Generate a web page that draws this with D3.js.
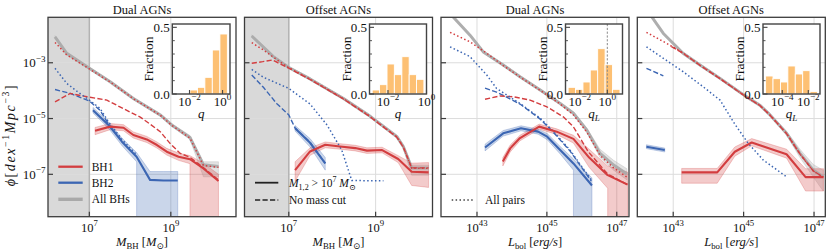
<!DOCTYPE html>
<html><head><meta charset="utf-8">
<script src="https://cdn.jsdelivr.net/npm/d3@7"></script>
<style>body{margin:0;background:#fff}svg text{font-family:"Liberation Serif","Times New Roman","DejaVu Serif",serif;fill:#111}</style>
</head><body><svg id="c" width="831" height="251"></svg>
<script>
// ---------------- DATA (log10 units) ----------------
// Panel 1: Dual AGNs vs M_BH  [logM, logPhi] or [logM, logPhi, lo, hi]
const p1_allBH = [[6.157,-2.07,-2.11,-2.03],[6.445,-2.66,-2.70,-2.62],[7.00,-3.20,-3.24,-3.16],[7.51,-3.68,-3.72,-3.64],[8.08,-4.28,-4.32,-4.24],[8.74,-4.87,-4.92,-4.82],[9.02,-5.23,-5.28,-5.18],[9.47,-5.68,-5.75,-5.61],[9.80,-6.66,-7.09,-6.55],[10.17,-6.72,-7.09,-6.55]];
const p1_BH1_all = [[6.157,-2.27],[6.445,-2.72],[7.00,-3.22],[7.51,-3.69],[8.08,-4.29],[8.74,-4.88],[9.02,-5.24],[9.47,-5.70],[9.80,-6.68],[10.17,-6.75]];
const p1_BH2_all = [[6.157,-3.20],[6.445,-3.74],[6.72,-4.05],[7.00,-4.34],[7.26,-4.63],[7.47,-5.12],[7.80,-5.75],[8.16,-6.30]];
const p1_BH1_nocut = [[6.157,-4.40],[6.53,-4.10],[6.94,-4.22],[7.43,-4.34],[7.92,-4.71],[8.25,-4.95],[8.49,-5.20],[8.74,-5.47],[8.98,-5.89],[9.23,-6.25],[9.47,-6.39],[9.72,-6.67],[10.17,-7.20]];
const p1_BH2_nocut = [[6.157,-3.96],[6.53,-4.10],[7.00,-4.37],[7.26,-4.70],[7.47,-5.20],[7.80,-5.80]];
const p1_BH1 = [[7.14,-5.44,-5.58,-5.32],[7.51,-5.29,-5.40,-5.18],[7.84,-5.33,-5.44,-5.22],[8.08,-5.59,-5.70,-5.48],[8.41,-5.75,-5.86,-5.64],[8.66,-5.95,-6.06,-5.84],[8.90,-6.19,-6.31,-6.07],[9.19,-6.37,-6.50,-6.24],[9.47,-6.46,-6.62,-6.33],[9.80,-6.79,null,-6.60],[10.17,-7.24,null,-7.00]];
const p1_BH2 = [[7.09,-4.70,-4.80,-4.60],[7.47,-5.23,-5.35,-5.12],[7.80,-5.83,-5.97,-5.70],[8.16,-6.37,-6.55,-6.22],[8.49,-7.20,null,-6.90],[8.82,-7.22,null,-6.90],[9.17,-7.22,null,-6.90]];

// Panel 2: Offset AGNs vs M_BH
const p2_allBH = [[6.147,-2.04,-2.08,-2.00],[6.645,-2.78,-2.82,-2.74],[7.00,-3.17,-3.21,-3.13],[7.49,-3.58,-3.62,-3.54],[8.26,-4.28,-4.32,-4.24],[8.83,-4.87,-4.92,-4.82],[9.49,-5.65,-5.71,-5.59],[9.64,-6.01,-6.08,-5.94],[9.83,-6.77,-7.03,-6.67],[10.22,-6.77,-7.03,-6.67]];
const p2_BH1_all = [[6.147,-2.28],[6.415,-2.54],[6.645,-2.80],[7.00,-3.18],[7.49,-3.59],[8.26,-4.29],[8.83,-4.88],[9.49,-5.66],[9.64,-6.02],[9.83,-6.78],[10.22,-6.78]];
const p2_BH1_nocut = [[6.147,-3.02],[6.40,-2.96],[6.62,-2.90],[7.00,-3.19],[7.49,-3.60],[8.26,-4.30],[8.83,-4.89],[9.49,-5.67],[9.64,-6.03],[9.83,-6.77],[10.22,-6.77]];
const p2_BH2_all = [[6.147,-3.24],[6.415,-3.52],[7.00,-3.92],[7.49,-4.48],[7.88,-5.23],[8.22,-6.13],[8.45,-7.22],[8.80,-7.23],[9.18,-7.23]];
const p2_BH2_nocut = [[6.147,-3.44],[6.415,-3.88],[6.72,-4.46],[7.00,-4.87],[7.145,-5.34],[7.49,-5.85],[7.84,-6.61]];
const p2_BH1 = [[7.145,-6.85,-7.25,-6.55],[7.49,-6.18,-6.32,-6.05],[7.84,-5.94,-6.05,-5.84],[8.18,-6.00,-6.10,-5.90],[8.53,-6.06,-6.16,-5.96],[8.80,-6.15,-6.25,-6.05],[9.15,-6.13,-6.23,-6.03],[9.52,-6.45,-6.58,-6.33],[9.83,-6.91,-7.40,-6.60],[10.22,-6.93,-7.47,-6.58]];
const p2_BH2 = [[7.145,-5.35,-5.45,-5.25],[7.49,-5.87,-6.02,-5.72],[7.84,-6.61,-6.85,-6.40]];

// Panel 3: Dual AGNs vs L_bol
const p3_allBH = [[42.23,-1.24,-1.28,-1.20],[42.80,-2.01,-2.05,-1.97],[43.18,-2.61,-2.65,-2.57],[43.75,-3.08,-3.12,-3.04],[44.23,-3.50,-3.54,-3.46],[44.81,-3.98,-4.02,-3.94],[45.38,-4.46,-4.50,-4.42],[45.76,-4.81,-4.86,-4.76],[46.14,-5.41,-5.48,-5.34],[46.52,-6.25,-6.40,-6.10],[46.91,-6.67,-6.85,-6.50],[47.29,-6.99,-7.20,-6.80]];
const p3_BH1_all = [[42.23,-1.91],[42.80,-2.25],[43.28,-2.66],[43.75,-3.10],[44.23,-3.51],[44.81,-3.99],[45.38,-4.48],[45.76,-4.87],[46.14,-5.48],[46.52,-6.32],[46.91,-6.77],[47.29,-7.10]];
const p3_BH2_all = [[42.23,-2.43],[42.80,-2.78],[43.28,-3.44],[43.56,-3.92],[44.23,-4.46],[44.81,-4.99],[45.19,-5.47],[45.66,-6.13],[46.27,-7.20]];
const p3_BH1_nocut = [[43.23,-4.31],[43.66,-4.19],[44.04,-4.22],[44.52,-4.34],[45.00,-4.58],[45.47,-4.94],[45.76,-5.30],[46.19,-6.20],[46.74,-6.99],[47.31,-7.37]];
const p3_BH2_nocut = [[43.23,-3.91],[43.56,-4.05],[44.23,-4.48],[44.81,-5.02],[45.19,-5.50],[45.66,-6.16],[46.27,-7.24]];
const p3_BH1 = [[43.74,-6.54,-6.70,-6.40],[43.95,-6.07,-6.20,-5.95],[44.23,-5.70,-5.80,-5.60],[44.78,-5.29,-5.38,-5.20],[45.28,-5.47,-5.57,-5.37],[45.76,-5.73,-5.88,-5.60],[46.21,-6.40,-6.75,-6.10],[46.74,-7.03,-7.50,-6.70],[47.31,-7.37,null,-6.92]];
const p3_BH2 = [[43.23,-6.04,-6.16,-5.92],[43.75,-5.53,-5.63,-5.43],[44.26,-5.35,-5.44,-5.26],[44.75,-5.47,-5.56,-5.38],[45.01,-5.65,-5.76,-5.54],[45.38,-6.13,-6.27,-6.00],[45.76,-6.61,-6.85,-6.45],[46.29,-7.40,null,-7.13]];

// Panel 4: Offset AGNs vs L_bol
const p4_allBH = [[42.24,-1.08,-1.12,-1.04],[42.72,-1.95,-1.99,-1.91],[43.28,-2.66,-2.70,-2.62],[43.76,-3.08,-3.12,-3.04],[44.33,-3.56,-3.60,-3.52],[45.01,-4.16,-4.20,-4.12],[45.46,-4.52,-4.56,-4.48],[45.75,-4.87,-4.92,-4.82],[46.22,-5.53,-5.60,-5.46],[46.60,-6.25,-6.40,-6.10],[46.98,-6.85,-7.10,-6.65],[47.26,-7.09,-7.60,-6.85]];
const p4_BH1_all = [[42.24,-1.91],[42.81,-2.30],[43.28,-2.65],[43.76,-3.09],[44.33,-3.57],[45.01,-4.17],[45.46,-4.53],[45.75,-4.88],[46.22,-5.54],[46.60,-6.27],[46.98,-6.88],[47.26,-7.10]];
const p4_BH1_nocut = [[42.95,-2.42],[43.28,-2.66],[43.76,-3.09],[44.33,-3.57],[45.01,-4.17],[45.46,-4.53],[45.75,-4.88],[46.22,-5.54],[46.60,-6.27],[46.98,-6.88],[47.26,-7.10]];
const p4_BH2_all = [[42.24,-2.43],[42.72,-2.84],[43.28,-3.32],[43.85,-3.86],[44.33,-4.34],[44.75,-5.20],[45.13,-5.89],[45.56,-6.49],[46.22,-7.09]];
const p4_BH2_nocut = [[42.24,-3.20],[42.72,-3.47]];
const p4_BH1 = [[43.24,-6.93,-7.32,-6.79],[44.25,-6.93,-7.32,-6.79],[44.75,-6.19,-6.35,-6.02],[45.23,-5.86,-5.98,-5.72],[46.22,-6.28,-6.42,-6.10],[46.76,-7.10,-7.60,-6.80],[47.27,-7.10,-7.60,-6.80]];
const p4_BH2 = [[42.24,-6.01,-6.08,-5.94],[42.76,-6.13,-6.20,-6.06]];

// Inset histograms: bin edges (log10) and fractions
const h1_edges = [-2.88,-2.43,-1.97,-1.52,-1.07,-0.62,-0.16,0.29];
const h1_vals  = [0, 0, 0.03, 0.05, 0.125, 0.33, 0.45];
const h2_edges = [-2.82,-2.44,-2.05,-1.67,-1.28,-0.90,-0.52,-0.135];
const h2_vals  = [0.03, 0.07, 0.225, 0.145, 0.28, 0.145, 0.11];
const h3_edges = [-2.85,-2.31,-1.77,-1.24,-0.70,-0.16,0.38,0.92];
const h3_vals  = [0.05, 0.035, 0.09, 0.18, 0.34, 0.22, 0.035];
const h4_edges = [-5.28,-4.71,-4.14,-3.57,-3.00,-2.43,-1.87,-1.30];
const h4_vals  = [0.135, 0.115, 0.09, 0.21, 0.15, 0.175, 0.018];

const titles = ["Dual AGNs","Offset AGNs","Dual AGNs","Offset AGNs"];
const yTicks = [-3,-5,-7];
const xTicksM = [7,9];
const xTicksL = [43,45,47];

// ---------------- LAYOUT ----------------
const RED="#d33d3f", BLUE="#3c66b3", GRAY="#a9a9a9";
const TOP=17.3, BOT=216.7;
const svg=d3.select("#c");
svg.append("rect").attr("width",831).attr("height",251).attr("fill","#fff");
const ys=d3.scaleLog().domain([10**-8.52,10**-1.37]).range([BOT,TOP]);
const P=(v)=>10**v;

const panels=[
 {l:48,r:236,xd:[5.985,10.60],xt:xTicksM,shade:7,
  gray:p1_allBH,rdot:p1_BH1_all,bdot:p1_BH2_all,rdash:p1_BH1_nocut,bdash:p1_BH2_nocut,rs:p1_BH1,bs:p1_BH2,
  ins:{x0:172.3,x1:230,xd:[-3.04,0.45],edges:h1_edges,vals:h1_vals,ticks:[-2,0],lab:"q"}},
 {l:244.5,r:432.5,xd:[5.98,10.31],xt:xTicksM,shade:7,
  gray:p2_allBH,rdot:p2_BH1_all,bdot:p2_BH2_all,rdash:p2_BH1_nocut,bdash:p2_BH2_nocut,rs:p2_BH1,bs:p2_BH2,
  ins:{x0:369.5,x1:426.5,xd:[-2.96,0.0],edges:h2_edges,vals:h2_vals,ticks:[-2,0],lab:"q"}},
 {l:441,r:629,xd:[41.97,47.35],xt:xTicksL,
  gray:p3_allBH,rdot:p3_BH1_all,bdot:p3_BH2_all,rdash:p3_BH1_nocut,bdash:p3_BH2_nocut,rs:p3_BH1,bs:p3_BH2,
  ins:{x0:565.5,x1:622.5,xd:[-3.04,1.105],edges:h3_edges,vals:h3_vals,ticks:[-2,0],lab:"qL",vline:0}},
 {l:637.3,r:825.3,xd:[41.98,47.32],xt:xTicksL,
  gray:p4_allBH,rdot:p4_BH1_all,bdot:p4_BH2_all,rdash:p4_BH1_nocut,bdash:p4_BH2_nocut,rs:p4_BH1,bs:p4_BH2,
  ins:{x0:763,x1:820,xd:[-5.48,-1.1],edges:h4_edges,vals:h4_vals,ticks:[-4,-2],lab:"qL"}}
];

function rich(g,x,y,parts,size,anchor){
  const t=g.append("text").attr("x",x).attr("y",y).attr("font-size",size).attr("text-anchor",anchor||"start");
  let cur=0;
  parts.forEach(p=>{
    const tgt=p.s==="sup"?-0.42*size:p.s==="sub"?0.25*size:0;
    const ts=t.append("tspan").text(p.t).attr("dy",tgt-cur);
    cur=tgt;
    if(p.s) ts.attr("font-size",size*0.7);
    if(p.i) ts.attr("font-style","italic");
  });
  return t;
}

panels.forEach((p,pi)=>{
  const xs=d3.scaleLog().domain([P(p.xd[0]),P(p.xd[1])]).range([p.l,p.r]);
  const g=svg.append("g");
  const cid="clip"+pi;
  svg.append("clipPath").attr("id",cid).append("rect").attr("x",p.l).attr("y",TOP).attr("width",p.r-p.l).attr("height",BOT-TOP);
  const c=g.append("g").attr("clip-path",`url(#${cid})`);
  if(p.shade){
    c.append("rect").attr("x",p.l).attr("y",TOP).attr("width",xs(P(p.shade))-p.l).attr("height",BOT-TOP).attr("fill","#d9d9d9");
  }
  p.xt.forEach(v=>c.append("line").attr("x1",xs(P(v))).attr("x2",xs(P(v))).attr("y1",TOP).attr("y2",BOT).attr("stroke","#dcdcdc").attr("stroke-width",1));
  yTicks.forEach(v=>c.append("line").attr("x1",p.l).attr("x2",p.r).attr("y1",ys(P(v))).attr("y2",ys(P(v))).attr("stroke","#dcdcdc").attr("stroke-width",1));
  if(p.shade){
    c.append("line").attr("x1",xs(P(p.shade))).attr("x2",xs(P(p.shade))).attr("y1",TOP).attr("y2",BOT).attr("stroke","#b3b3b3").attr("stroke-width",1.5);
  }
  const line=d3.line().x(d=>xs(P(d[0]))).y(d=>ys(P(d[1])));
  const pline=d3.line();
  function band(data,col,op){
    const pts=[];
    data.forEach(d=>pts.push([xs(P(d[0])),ys(P(d[3]))]));
    const floor=BOT+10;
    for(let i=data.length-1;i>=0;i--){
      const d=data[i];
      if(d[2]===null){pts.push([xs(P(d[0])),floor]);}
      else{
        if(i<data.length-1 && data[i+1][2]===null) pts.push([xs(P(d[0])),floor]);
        pts.push([xs(P(d[0])),ys(P(d[2]))]);
      }
    }
    c.append("path").attr("d",pline(pts)+"Z").attr("fill",col).attr("fill-opacity",op)
      .attr("stroke",col).attr("stroke-opacity",op*1.2).attr("stroke-width",0.8);
  }
  band(p.gray,"#b0b0b0",0.35);
  band(p.rs,RED,0.27);
  band(p.bs,BLUE,0.27);
  c.append("path").attr("d",line(p.gray)).attr("fill","none").attr("stroke",GRAY).attr("stroke-width",3).attr("stroke-opacity",0.9).attr("stroke-linejoin","round");
  c.append("path").attr("d",line(p.bdash)).attr("fill","none").attr("stroke",BLUE).attr("stroke-width",1.4).attr("stroke-dasharray","5.2,2.3");
  c.append("path").attr("d",line(p.rdash)).attr("fill","none").attr("stroke",RED).attr("stroke-width",1.4).attr("stroke-dasharray","5.2,2.3");
  c.append("path").attr("d",line(p.bdot)).attr("fill","none").attr("stroke",BLUE).attr("stroke-width",1.5).attr("stroke-dasharray","1.5,2.4");
  c.append("path").attr("d",line(p.rdot)).attr("fill","none").attr("stroke",RED).attr("stroke-width",1.5).attr("stroke-dasharray","1.5,2.4");
  c.append("path").attr("d",line(p.bs)).attr("fill","none").attr("stroke",BLUE).attr("stroke-width",2.1).attr("stroke-linejoin","round");
  c.append("path").attr("d",line(p.rs)).attr("fill","none").attr("stroke",RED).attr("stroke-width",2.1).attr("stroke-linejoin","round");

  g.append("rect").attr("x",p.l).attr("y",TOP).attr("width",p.r-p.l).attr("height",BOT-TOP).attr("fill","none").attr("stroke","#3c3c3c").attr("stroke-width",1.3);
  yTicks.forEach(v=>{
    g.append("line").attr("x1",p.l).attr("x2",p.l+5).attr("y1",ys(P(v))).attr("y2",ys(P(v))).attr("stroke","#3c3c3c").attr("stroke-width",1.2);
    if(pi===0) rich(g,45.5,ys(P(v))+4.5,[{t:"10"},{t:"−"+(-v),s:"sup"}],13,"end");
  });
  p.xt.forEach(v=>{
    g.append("line").attr("x1",xs(P(v))).attr("x2",xs(P(v))).attr("y1",BOT).attr("y2",BOT-5).attr("stroke","#3c3c3c").attr("stroke-width",1.2);
    rich(g,xs(P(v)),231.5,[{t:"10"},{t:String(v),s:"sup"}],12.5,"middle");
  });
  g.append("text").attr("x",(p.l+p.r)/2).attr("y",13.5).attr("text-anchor","middle").attr("font-size",12.5).text(titles[pi]);
  if(pi<2) rich(g,(p.l+p.r)/2,245.5,[{t:"M",i:1},{t:"BH",s:"sub"},{t:" ["},{t:"M",i:1},{t:"⊙",s:"sub"},{t:"]"}],12.5,"middle");
  else rich(g,(p.l+p.r)/2,245.5,[{t:"L",i:1},{t:"bol",s:"sub"},{t:" ["},{t:"erg/s",i:1},{t:"]"}],12.5,"middle");

  const I=p.ins, iy0=24, iy1=94;
  const ix=d3.scaleLog().domain([P(I.xd[0]),P(I.xd[1])]).range([I.x0,I.x1]);
  const iyS=d3.scaleLinear().domain([0,0.525]).range([iy1,iy0]);
  const ig=g.append("g");
  ig.append("rect").attr("x",I.x0).attr("y",iy0).attr("width",I.x1-I.x0).attr("height",iy1-iy0).attr("fill","#fff");
  I.vals.forEach((v,k)=>{
    if(v<=0) return;
    const xa=ix(P(I.edges[k])), xb=ix(P(I.edges[k+1]));
    ig.append("rect").attr("x",xa).attr("y",iyS(v)).attr("width",xb-xa).attr("height",iyS(0)-iyS(v))
      .attr("fill","#fdbd6c").attr("fill-opacity",0.95).attr("stroke","#fff").attr("stroke-width",0.9);
  });
  if(I.vline!==undefined){
    ig.append("line").attr("x1",ix(P(I.vline))).attr("x2",ix(P(I.vline))).attr("y1",iy0).attr("y2",iy1).attr("stroke","#8a8a8a").attr("stroke-width",1).attr("stroke-dasharray","2.2,1.6");
  }
  [0.1,0.2,0.3,0.4].forEach(v=>ig.append("line").attr("x1",I.x0).attr("x2",I.x0+2.5).attr("y1",iyS(v)).attr("y2",iyS(v)).attr("stroke","#444").attr("stroke-width",0.9));
  [0,0.5].forEach(v=>{
    ig.append("line").attr("x1",I.x0).attr("x2",I.x0+4.5).attr("y1",iyS(v)).attr("y2",iyS(v)).attr("stroke","#444").attr("stroke-width",1.1);
    ig.append("text").attr("x",I.x0-2.5).attr("y",iyS(v)+4.5).attr("text-anchor","end").attr("font-size",13).text(v.toFixed(1));
  });
  I.ticks.forEach(v=>{
    ig.append("line").attr("x1",ix(P(v))).attr("x2",ix(P(v))).attr("y1",iy1).attr("y2",iy1-4).attr("stroke","#444").attr("stroke-width",1.1);
    rich(ig,ix(P(v)),105.5,[{t:"10"},{t:(v<0?"−"+(-v):String(v)),s:"sup"}],13,"middle");
  });
  ig.append("rect").attr("x",I.x0).attr("y",iy0).attr("width",I.x1-I.x0).attr("height",iy1-iy0).attr("fill","none").attr("stroke","#444").attr("stroke-width",1.4);
  ig.append("text").attr("transform",`translate(${I.x0-19},${(iy0+iy1)/2}) rotate(-90)`).attr("text-anchor","middle").attr("font-size",13.5).text("Fraction");
  if(I.lab==="q") rich(ig,(I.x0+I.x1)/2,118,[{t:"q",i:1}],13,"middle");
  else rich(ig,(I.x0+I.x1)/2,118,[{t:"q",i:1},{t:"L",s:"sub",i:1}],13,"middle");
});

// y label
rich(svg.append("g").attr("transform","translate(14.5,135) rotate(-90)"),0,0,
  [{t:"ϕ",i:1},{t:"["},{t:"dex",i:1},{t:"−1",s:"sup"},{t:"Mpc",i:1},{t:"−3",s:"sup"},{t:"]"}],14,"middle")
  .attr("letter-spacing",1.6);

// legends
const lg=svg.append("g");
[[RED,"BH1",166.7,2.3],[BLUE,"BH2",182.7,2.3],[GRAY,"All BHs",199.3,3.4]].forEach(([col,lab,y,w])=>{
  lg.append("line").attr("x1",58.3).attr("x2",82.7).attr("y1",y).attr("y2",y).attr("stroke",col).attr("stroke-width",w);
  lg.append("text").attr("x",91.7).attr("y",y+4).attr("font-size",11.5).text(lab);
});
lg.append("line").attr("x1",255).attr("x2",278.3).attr("y1",182.7).attr("y2",182.7).attr("stroke","#222").attr("stroke-width",1.8);
rich(lg,289,186.7,[{t:"M",i:1},{t:"1,2",s:"sub"},{t:" > 10"},{t:"7",s:"sup"},{t:" "},{t:"M",i:1},{t:"⊙",s:"sub"}],11.5,"start");
lg.append("line").attr("x1",255).attr("x2",278.3).attr("y1",200).attr("y2",200).attr("stroke","#222").attr("stroke-width",1.4).attr("stroke-dasharray","5.2,2.3");
lg.append("text").attr("x",289).attr("y",204).attr("font-size",11.5).text("No mass cut");
lg.append("line").attr("x1",451.7).attr("x2",475).attr("y1",200).attr("y2",200).attr("stroke","#444").attr("stroke-width",1.4).attr("stroke-dasharray","1.5,2.4");
lg.append("text").attr("x",485).attr("y",204).attr("font-size",11.5).text("All pairs");
</script></body></html>
